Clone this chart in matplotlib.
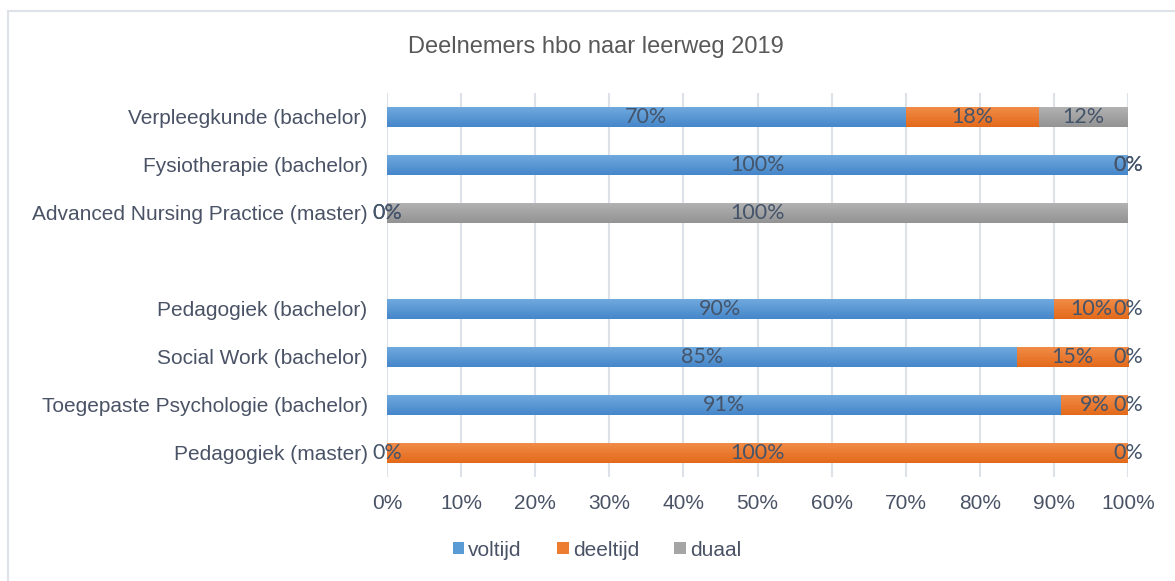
import matplotlib
matplotlib.use("Agg")
import matplotlib.pyplot as plt
import numpy as np
from matplotlib.patches import Rectangle
from matplotlib.colors import LinearSegmentedColormap

title = "Deelnemers hbo naar leerweg 2019"
categories = [
    "Verpleegkunde (bachelor)",
    "Fysiotherapie (bachelor)",
    "Advanced Nursing Practice (master)",
    "",
    "Pedagogiek (bachelor)",
    "Social Work (bachelor)",
    "Toegepaste Psychologie (bachelor)",
    "Pedagogiek (master)",
]
series_names = ["voltijd", "deeltijd", "duaal"]
voltijd = [70, 100, 0, None, 90, 85, 91, 0]
deeltijd = [18, 0, 0, None, 10, 15, 9, 100]
duaal = [12, 0, 100, None, 0, 0, 0, 0]
xtick_labels = ["0%", "10%", "20%", "30%", "40%", "50%", "60%", "70%", "80%", "90%", "100%"]

colors = ["#5B9BD5", "#ED7D31", "#A5A5A5"]
light = ["#70A9DE", "#F18C48", "#B2B2B2"]
dark = ["#4587CA", "#E3691A", "#939393"]

fig = plt.figure(figsize=(11.75, 5.81), dpi=100)
W, H = 1175, 581
ax = fig.add_axes([387 / W, 1 - 477 / H, (1128 - 387) / W, (477 - 93) / H])

# chart border (left & top visible)
fig.patches.append(Rectangle((8 / W, -0.1), 1.2, (H - 11) / H + 0.1, transform=fig.transFigure,
                             fill=False, edgecolor="#DDE1E8", linewidth=1.5))

ypos = np.arange(len(categories))
left = np.zeros(len(categories))
bar_h = 0.41
label_color = "#44546A"
fs = 15
series = [voltijd, deeltijd, duaal]
for si, vals in enumerate(series):
    v = np.array([np.nan if x is None else x for x in vals], dtype=float)
    valid = ~np.isnan(v)
    bars = ax.barh(ypos[valid], v[valid], left=left[valid], height=bar_h,
                   color=colors[si], label=series_names[si], zorder=2)
    cmap = LinearSegmentedColormap.from_list("g", [light[si], dark[si]])
    grad = np.linspace(0, 1, 64).reshape(-1, 1)
    for b in bars:
        x0, y0 = b.get_x(), b.get_y()
        w, h = b.get_width(), b.get_height()
        if w <= 0:
            continue
        im = ax.imshow(grad, aspect="auto", cmap=cmap, extent=(x0, x0 + w, y0, y0 + h),
                       origin="lower", zorder=2.5, interpolation="bilinear")
        im.set_clip_path(b)
    for yi, val, l in zip(ypos[valid], v[valid], left[valid]):
        ax.text(l + val / 2, yi, f"{int(val)}%", ha="center", va="center",
                fontsize=15.5, color=label_color, family="Lato", zorder=4)
    left[valid] += v[valid]

ax.set_xlim(0, 100)
ax.set_ylim(len(categories) - 0.5, -0.5)
ax.set_xticks(np.arange(0, 101, 10))
ax.set_xticklabels(xtick_labels, fontsize=fs, color="#4A5366", family="Liberation Sans")
ax.set_yticks(ypos)
ax.set_yticklabels(categories, fontsize=fs, color="#4A5366", family="Liberation Sans")
ax.tick_params(axis="both", length=0)
ax.tick_params(axis="x", pad=12)
ax.tick_params(axis="y", pad=14)
for s in ax.spines.values():
    s.set_visible(False)
ax.grid(axis="x", color="#DDE1E8", linewidth=1.5, zorder=0)
ax.set_axisbelow(True)

fig.text(596 / W, 1 - 47 / H, title, ha="center", va="center", fontsize=17,
         color="#595959", family="Liberation Sans")

handles, labels = ax.get_legend_handles_labels()
leg = fig.legend(handles, labels, loc="center", bbox_to_anchor=(597 / W, 1 - 550 / H), ncol=3,
                 frameon=False, handlelength=0.55, handleheight=0.55, handletextpad=0.2,
                 columnspacing=1.7, prop={"family": "Liberation Sans", "size": fs})
for t in leg.get_texts():
    t.set_color("#4A5366")

fig.savefig("out.png", dpi=100)
